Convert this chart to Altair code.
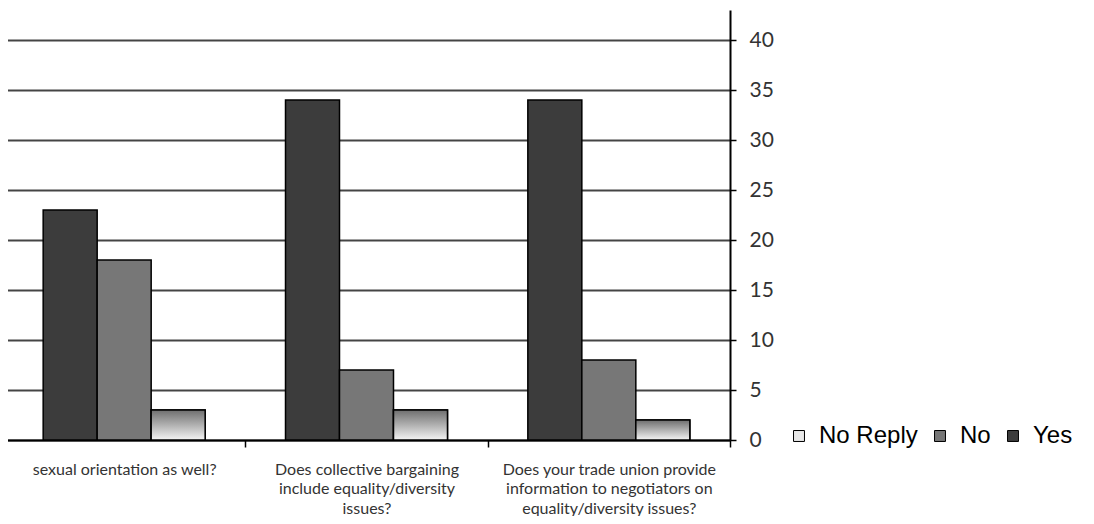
import altair as alt
import pandas as pd

categories = [
    "sexual orientation as well?",
    "Does collective bargaining\ninclude equality/diversity\nissues?",
    "Does your trade union provide\ninformation to negotiators on\nequality/diversity issues?",
]
series_bar_order = ["Yes", "No", "No Reply"]
series_legend_order = ["No Reply", "No", "Yes"]
yes_values = [23, 34, 34]
no_values = [18, 7, 8]
noreply_values = [3, 3, 2]
y_ticks = [0, 5, 10, 15, 20, 25, 30, 35, 40]

rows = []
for i, c in enumerate(categories):
    rows.append({"question": c, "answer": "Yes", "count": yes_values[i]})
    rows.append({"question": c, "answer": "No", "count": no_values[i]})
    rows.append({"question": c, "answer": "No Reply", "count": noreply_values[i]})
df = pd.DataFrame(rows)

x_enc = alt.X(
    "question:N",
    sort=categories,
    scale=alt.Scale(paddingInner=0, paddingOuter=0),
    axis=alt.Axis(
        title=None,
        labelAngle=0,
        labelExpr="split(datum.label, '\\n')",
        labelLineHeight=19.5,
        labelFontSize=16,
        labelFont="Lato",
        labelColor="#333333",
        labelLimit=400,
        labelPadding=14,
        labelBaseline="top",
        tickBand="extent",
        ticks=True,
        tickSize=7,
        tickColor="black",
        tickWidth=1.5,
        domainColor="black",
        domainWidth=2,
        grid=False,
    ),
)
xoff_enc = alt.XOffset(
    "answer:N",
    sort=series_bar_order,
    scale=alt.Scale(domain=series_bar_order, paddingInner=0, paddingOuter=0.744),
)
y_enc = alt.Y(
    "count:Q",
    scale=alt.Scale(domain=[0, 43], nice=False),
    axis=alt.Axis(
        orient="right",
        values=y_ticks,
        title=None,
        grid=True,
        gridColor="#444444",
        gridWidth=2,
        domainColor="black",
        domainWidth=2,
        tickColor="black",
        tickSize=6,
        tickWidth=1.5,
        labelFontSize=21,
        labelFont="Lato",
        labelColor="#333333",
        labelPadding=13,
    ),
)

bars = alt.Chart(df).mark_bar(stroke="black", strokeWidth=1.5).encode(
    x=x_enc,
    xOffset=xoff_enc,
    y=y_enc,
    color=alt.Color(
        "answer:N",
        scale=alt.Scale(domain=series_legend_order, range=["#e8e8e8", "#777777", "#3c3c3c"]),
        legend=alt.Legend(
            title=None,
            orient="none",
            legendX=784,
            legendY=414,
            direction="horizontal",
            symbolType="square",
            symbolSize=120,
            symbolStrokeColor="black",
            symbolStrokeWidth=1,
            labelFontSize=24,
            labelFont="Liberation Sans",
            labelColor="black",
            labelOffset=8,
            columnPadding=10,
            padding=0,
        ),
    ),
)

gradient_bars = alt.Chart(df).transform_filter(
    alt.datum.answer == "No Reply"
).mark_bar(
    stroke="black",
    strokeWidth=1.5,
    fill=alt.Gradient(
        gradient="linear",
        stops=[
            alt.GradientStop(color="#6e6e6e", offset=0),
            alt.GradientStop(color="#f4f4f4", offset=1),
        ],
        x1=0, x2=0, y1=0, y2=1,
    ),
).encode(x=x_enc, xOffset=xoff_enc, y=y_enc)

chart = alt.layer(bars, gradient_bars).properties(
    width=727,
    height=430,
    autosize=alt.AutoSizeParams(type="none"),
    padding={"left": -5, "top": 2, "right": 356, "bottom": 76},
).configure_view(stroke=None)

chart.save("out.html", embed_options={"renderer": "svg", "actions": False})
